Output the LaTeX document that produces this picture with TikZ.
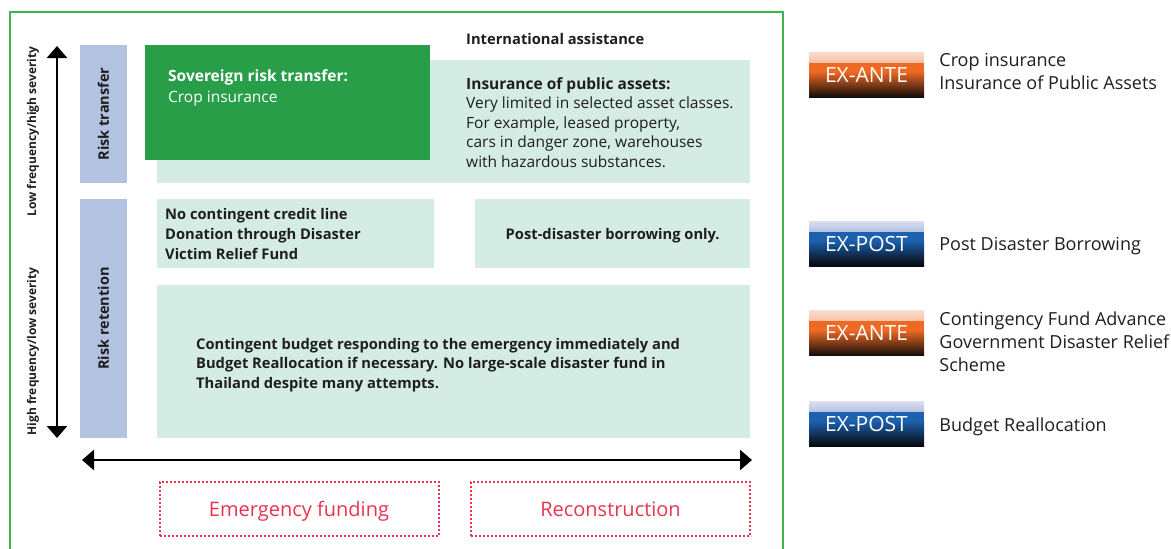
\documentclass[tikz,border=0pt]{standalone}
\usepackage{fontspec}
\setmainfont{Open Sans}
\usepackage{xcolor}
\usetikzlibrary{arrows.meta,positioning,calc}
\definecolor{framegreen}{HTML}{3DB54A}
\definecolor{srtgreen}{HTML}{289E49}
\definecolor{paleteal}{HTML}{D5ECE5}
\definecolor{barblue}{HTML}{B4C2E1}
\definecolor{fundred}{HTML}{E8344E}
\definecolor{inkgray}{HTML}{1E1E1E}
\definecolor{antedark}{HTML}{120D0B}
\definecolor{anteorange}{HTML}{EE6A24}
\definecolor{antelight}{HTML}{F9DCCD}
\definecolor{postdark}{HTML}{06070A}
\definecolor{postblue}{HTML}{1C60AE}
\definecolor{postlight}{HTML}{DCDFF0}
% badge fill in three bands: light to strong, strong, strong to dark
\newcommand{\badgeshade}[3]{%
  \shade[top color=#1,bottom color=#2] (path picture bounding box.north west)
    rectangle ($(path picture bounding box.north east)!0.25!(path picture bounding box.south east)$);
  \fill[#2] ($(path picture bounding box.north west)!0.24!(path picture bounding box.south west)$)
    rectangle ($(path picture bounding box.north east)!0.44!(path picture bounding box.south east)$);
  \shade[top color=#2,bottom color=#3] ($(path picture bounding box.north west)!0.43!(path picture bounding box.south west)$)
    rectangle (path picture bounding box.south east);}

\begin{document}
\begin{tikzpicture}[
    x=1pt,y=-1pt,
    every node/.style={inner sep=0pt,text=inkgray},
    cell/.style={fill=paleteal,anchor=north west},
    bar/.style={fill=barblue,rotate=90,minimum height=47pt,
                font=\fontsize{14.5}{17}\selectfont\bfseries},
    sidelabel/.style={rotate=90,font=\fontsize{12}{14}\selectfont\bfseries},
    note/.style={align=left,anchor=north west,font=\fontsize{15.5}{19.5}\selectfont},
    boldnote/.style={note,font=\fontsize{14.7}{19.5}\selectfont\bfseries},
    fund/.style={draw=fundred,line width=2pt,dash pattern=on 2pt off 2pt,
                 minimum width=279pt,minimum height=54pt,text=fundred,text depth=0pt,
                 font=\fontsize{20}{24}\selectfont},
    badge/.style={minimum width=115pt,minimum height=45pt,text=white,text depth=0pt,
                  font=\fontsize{21}{24}\selectfont},
    exante/.style={badge,path picture={\badgeshade{antelight}{anteorange}{antedark}}},
    expost/.style={badge,path picture={\badgeshade{postlight}{postblue}{postdark}}},
    legend/.style={align=left,font=\fontsize{18}{23}\selectfont},
    axis/.style={{Triangle[width=20pt,length=12pt]}-{Triangle[width=20pt,length=12pt]},
                 line width=2.7pt,black}
  ]
  \useasboundingbox (0,0) rectangle (1171,549);
  \draw[framegreen,line width=1.6pt] (10,549) |- (783,12) -- (783,549);

  % severity axis and the two bands
  \coordinate (ytop) at (57,46);
  \coordinate (ybot) at (57,438);
  \draw[axis] (ytop) -- (ybot);
  \node[sidelabel] (lowfreq) at (33,131.5) {Low frequency/high severity};
  \node[sidelabel] (highfreq) at (33,351.5) {High frequency/low severity};
  \node[bar,minimum width=138pt] (transfer) at (103.5,114) {Risk transfer};
  \node[bar,minimum width=239pt] (retention) at (103.5,318.5) {Risk retention};

  % instruments
  \node[cell,minimum width=593pt,minimum height=123pt] (assets) at (157,60) {};
  \node[fill=srtgreen,anchor=north west,minimum width=285pt,minimum height=115pt] (srt) at (145,45) {};
  \node[note,text=white,below right=24pt and 23pt of srt.north west] (srttext)
    {\textbf{Sovereign risk transfer:}\\[1.5pt]Crop insurance};
  \node[boldnote] (intl) at (466,33) {International assistance};
  \node[note] (assetstext) at (466,77)
    {\textbf{Insurance of public assets:}\\Very limited in selected asset classes.\\
     For example, leased property,\\cars in danger zone, warehouses\\with hazardous substances.};

  \node[cell,minimum width=277pt,minimum height=69pt] (credit) at (157,199) {};
  \node[boldnote,font=\fontsize{14.7}{20.2}\selectfont\bfseries,below right=9pt and 8pt of credit.north west] (credittext)
    {No contingent credit line\\Donation through Disaster\\Victim Relief Fund};
  \node[cell,minimum width=275pt,minimum height=69pt] (borrow) at (475,199) {};
  \node[font=\fontsize{14.7}{19.5}\selectfont\bfseries,yshift=-2pt] (borrowtext) at (borrow.center) {Post-disaster borrowing only.};

  \node[cell,minimum width=593pt,minimum height=153pt] (budget) at (157,285) {};
  \node[boldnote,below right=53pt and 39pt of budget.north west] (budgettext)
    {Contingent budget responding to the emergency immediately and\\
     Budget Reallocation if necessary. No large-scale disaster fund in\\
     Thailand despite many attempts.};

  % time axis
  \coordinate (xleft) at (82,460);
  \coordinate (xright) at (752,460);
  \draw[axis] (xleft) -- (xright);
  \node[fund] (emergency) at (299,509) {Emergency funding};
  \node[fund] (recon) at (610.5,509) {Reconstruction};

  % ex-ante / ex-post legend
  \node[exante] (ante1) at (866.5,74.5) {EX-ANTE};
  \node[legend,below right=1pt and 15pt of ante1.north east] (ante1text)
    {Crop insurance\\Insurance of Public Assets};
  \node[expost] (post1) at (866.5,243.5) {EX-POST};
  \node[legend,right=15pt of post1,yshift=-3pt] (post1text) {Post Disaster Borrowing};
  \node[exante] (ante2) at (866.5,333) {EX-ANTE};
  \node[legend,below right=1pt and 15pt of ante2.north east] (ante2text)
    {Contingency Fund Advance\\Government Disaster Relief\\Scheme};
  \node[expost] (post2) at (866.5,424) {EX-POST};
  \node[legend,right=15pt of post2,yshift=-3pt] (post2text) {Budget Reallocation};
\end{tikzpicture}
\end{document}
